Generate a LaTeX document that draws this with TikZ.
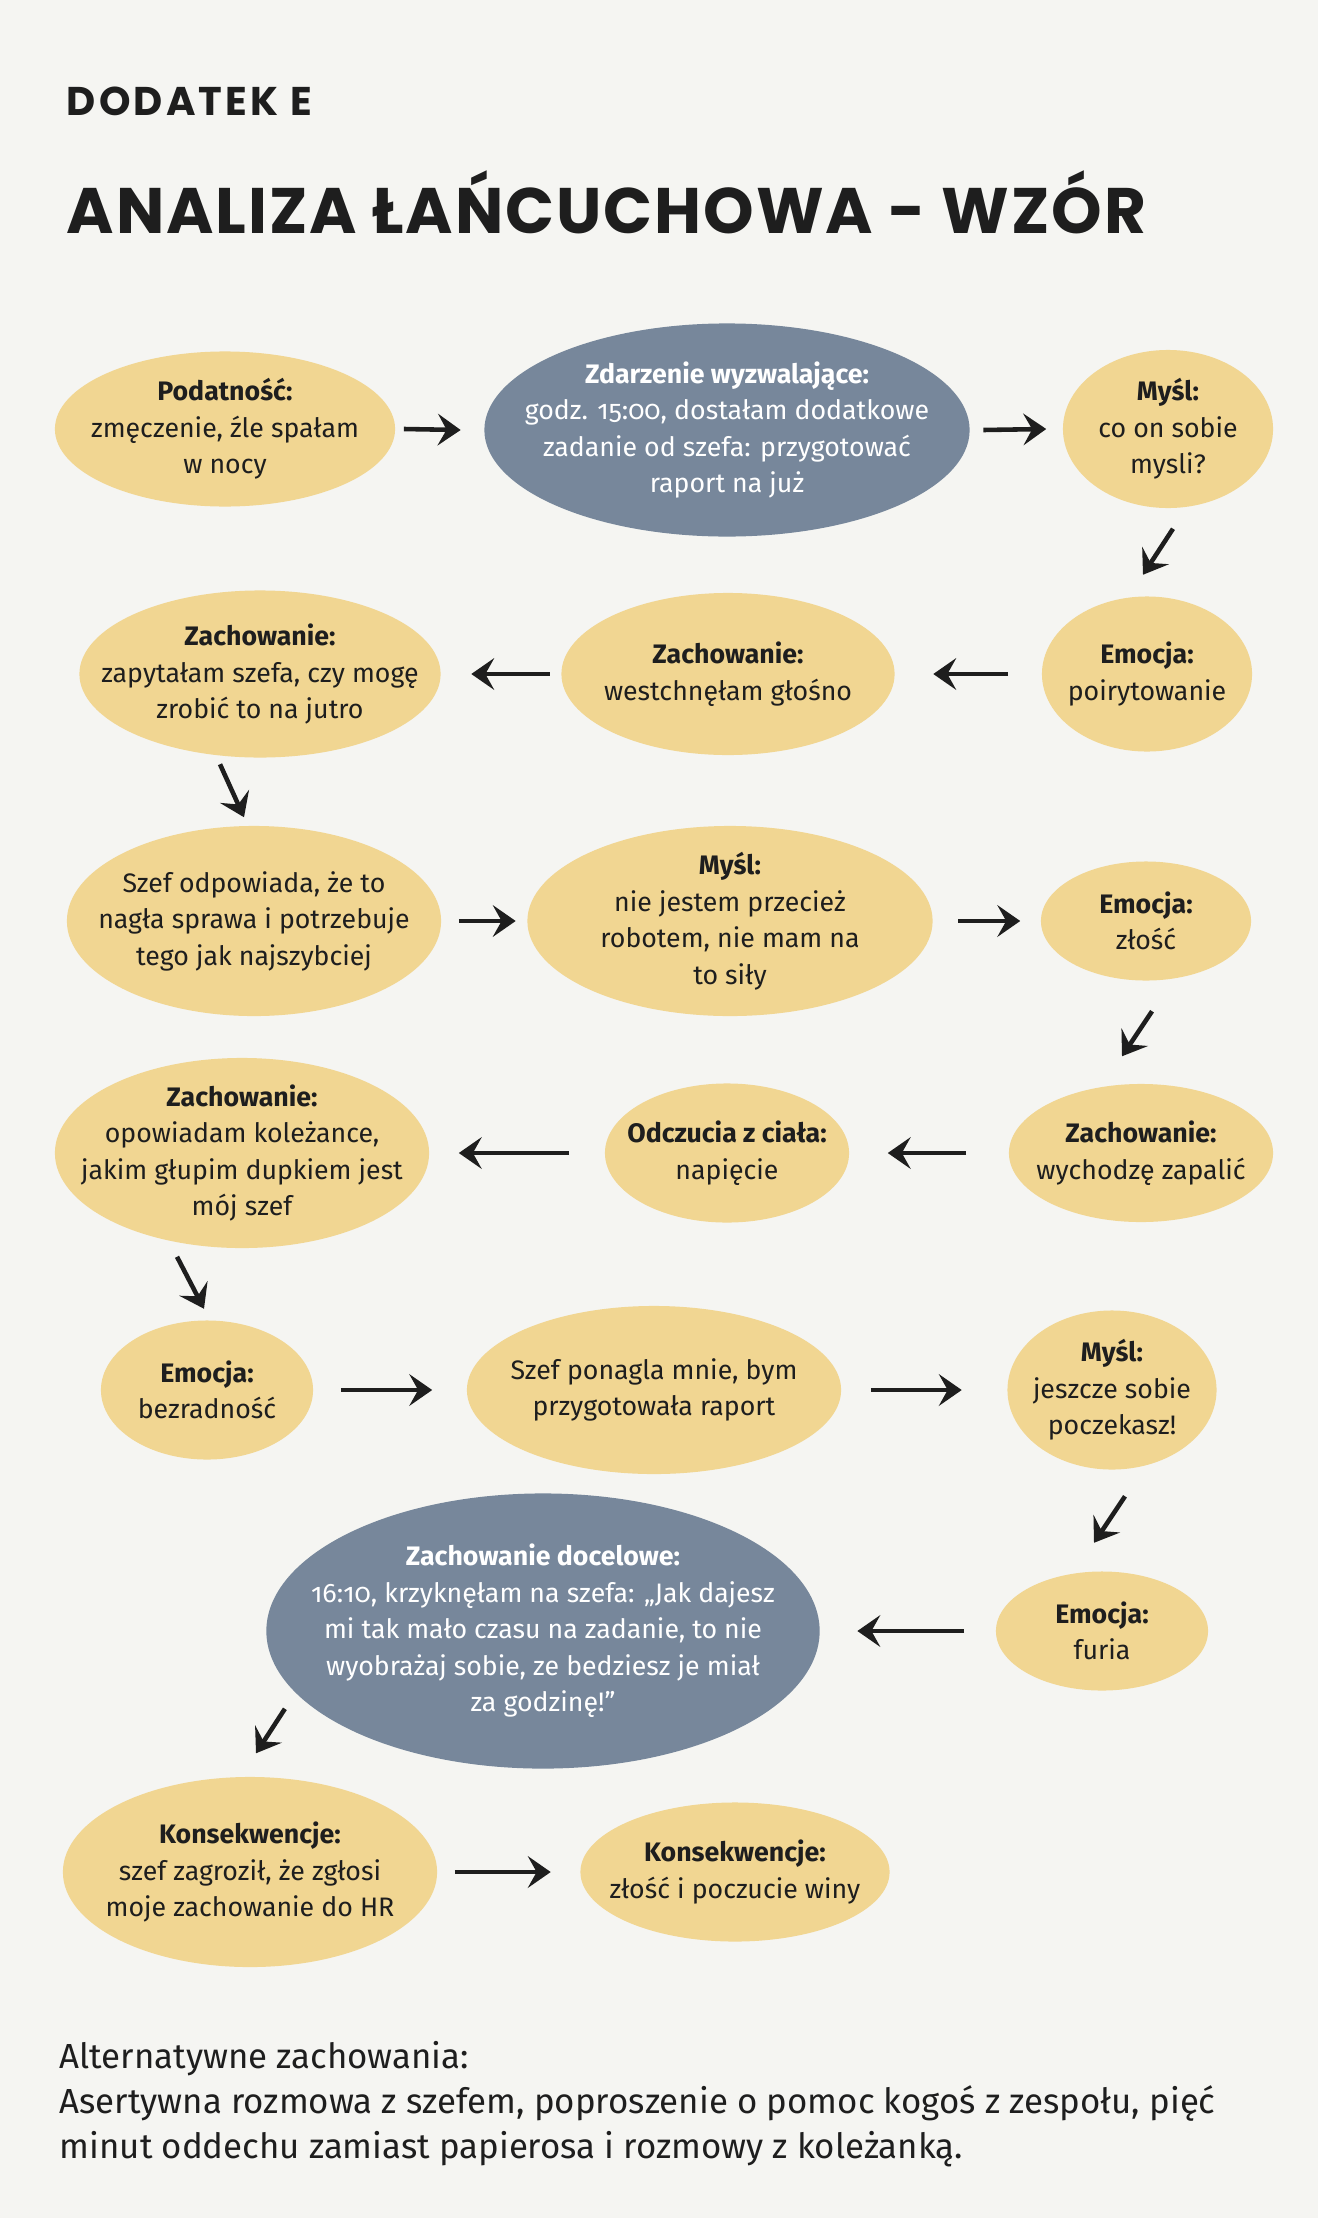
\documentclass[tikz,border=0pt]{standalone}
\usepackage{fontspec}
\setmainfont{Fira Sans}[Numbers=OldStyle]
\newfontfamily\tytulowa{Poppins}[LetterSpace=3]
\newfontfamily\dodatkowa{Poppins}[LetterSpace=8]
\usetikzlibrary{shapes.geometric,arrows.meta,calc}

\definecolor{piasek}{HTML}{F1D692}
\definecolor{lupek}{HTML}{77879B}
\definecolor{papier}{HTML}{F5F5F2}
\definecolor{tusz}{HTML}{1E1E1E}

\tikzset{
  babel/.style={ellipse, fill=piasek, text=tusz, inner sep=-2cm, align=center,
    font=\fontsize{7.6}{10.4}\selectfont},
  babel ciemny/.style={babel, fill=lupek, text=white},
  strz/.style={draw=tusz, line width=1.3pt, -{Stealth[length=6.5pt,width=9pt,inset=2.5pt]}},
  napis/.style={anchor=base west, inner sep=0pt, text=tusz},
}

\begin{document}
\begin{tikzpicture}[x=0.01cm, y=-0.01cm]
\fill[papier] (0,0) rectangle (1318,2218);
\useasboundingbox (0,0) rectangle (1318,2218);

% naglowek
\node[napis, font=\dodatkowa\bfseries\fontsize{11.4}{12}\selectfont] (dodatek) at (66,115) {DODATEK E};
\node[napis, font=\tytulowa\bfseries\fontsize{18.3}{20}\selectfont] (tytul) at (66,233) {ANALIZA ŁAŃCUCHOWA - WZÓR};

% wiersz 1
\node[babel, minimum width=3.40cm, minimum height=1.55cm] (pod) at (225,429) {\textbf{Podatność:}\\zmęczenie, źle spałam\\w nocy};
\node[babel ciemny, minimum width=4.85cm, minimum height=2.13cm] (zdarz) at (727,430) {\textbf{Zdarzenie wyzwalające:}\\godz. 15:00, dostałam dodatkowe\\zadanie od szefa: przygotować\\raport na już};
\node[babel, minimum width=2.10cm, minimum height=1.58cm] (mysl1) at (1168,429) {\textbf{Myśl:}\\co on sobie\\mysli?};

% wiersz 2
\node[babel, minimum width=2.10cm, minimum height=1.55cm] (emo1) at (1147,674) {\textbf{Emocja:}\\poirytowanie};
\node[babel, minimum width=3.33cm, minimum height=1.62cm] (zach1) at (728,674) {\textbf{Zachowanie:}\\westchnęłam głośno};
\node[babel, minimum width=3.61cm, minimum height=1.67cm] (zach2) at (260,674) {\textbf{Zachowanie:}\\zapytałam szefa, czy mogę\\zrobić to na jutro};

% wiersz 3
\node[babel, minimum width=3.74cm, minimum height=1.90cm] (szef1) at (254,921) {Szef odpowiada, że to\\nagła sprawa i potrzebuje\\tego jak najszybciej};
\node[babel, minimum width=4.05cm, minimum height=1.90cm] (mysl2) at (730,921) {\textbf{Myśl:}\\nie jestem przecież\\robotem, nie mam na\\to siły};
\node[babel, minimum width=2.10cm, minimum height=1.19cm] (emo2) at (1146,921) {\textbf{Emocja:}\\złość};

% wiersz 4
\node[babel, minimum width=2.64cm, minimum height=1.38cm] (zach3) at (1141,1153) {\textbf{Zachowanie:}\\wychodzę zapalić};
\node[babel, minimum width=2.44cm, minimum height=1.39cm] (odcz) at (727,1153) {\textbf{Odczucia z ciała:}\\napięcie};
\node[babel, minimum width=3.74cm, minimum height=1.90cm] (zach4) at (242,1153) {\textbf{Zachowanie:}\\opowiadam koleżance,\\jakim głupim dupkiem jest\\mój szef};

% wiersz 5
\node[babel, minimum width=2.12cm, minimum height=1.39cm] (emo3) at (207,1390) {\textbf{Emocja:}\\bezradność};
\node[babel, minimum width=3.74cm, minimum height=1.68cm] (szef2) at (654,1390) {Szef ponagla mnie, bym\\przygotowała raport};
\node[babel, minimum width=2.09cm, minimum height=1.59cm] (mysl3) at (1112,1390) {\textbf{Myśl:}\\jeszcze sobie\\poczekasz!};

% wiersz 6
\node[babel, minimum width=2.12cm, minimum height=1.19cm] (emo4) at (1102,1631) {\textbf{Emocja:}\\furia};
\node[babel ciemny, minimum width=5.53cm, minimum height=2.75cm] (docel) at (543,1631) {\textbf{Zachowanie docelowe:}\\16:10, krzyknęłam na szefa: „Jak dajesz\\mi tak mało czasu na zadanie, to nie\\wyobrażaj sobie, ze bedziesz je miał\\za godzinę!”};

% wiersz 7
\node[babel, minimum width=3.74cm, minimum height=1.90cm] (kons1) at (250,1872) {\textbf{Konsekwencje:}\\szef zagroził, że zgłosi\\moje zachowanie do HR};
\node[babel, minimum width=3.09cm, minimum height=1.39cm] (kons2) at (735,1872) {\textbf{Konsekwencje:}\\złość i poczucie winy};

% strzalki
\draw[strz] ($(pod.east)+(8,0)$) -- ($(zdarz.west)+(-23,0)$);
\draw[strz] ($(zdarz.east)+(13,0)$) -- ($(mysl1.west)+(-16,0)$);
\draw[strz] ($(mysl1.south)+(5,20)$) -- ($(emo1.north)+(-4,-21)$);
\draw[strz] ($(emo1.west)+(-33,0)$) -- ($(zach1.east)+(38,0)$);
\draw[strz] ($(zach1.west)+(-11,0)$) -- ($(zach2.east)+(30,0)$);
\draw[strz] ($(zach2.south)+(-40,6)$) -- ($(szef1.north)+(-10,-8)$);
\draw[strz] ($(szef1.east)+(17,0)$) -- ($(mysl2.west)+(-11,0)$);
\draw[strz] ($(mysl2.east)+(25,0)$) -- ($(emo2.west)+(-20,0)$);
\draw[strz] ($(emo2.south)+(6,30)$) -- ($(zach3.north)+(-19,-27)$);
\draw[strz] ($(zach3.west)+(-42,0)$) -- ($(odcz.east)+(38,0)$);
\draw[strz] ($(odcz.west)+(-35,0)$) -- ($(zach4.east)+(29,0)$);
\draw[strz] ($(zach4.south)+(-65,8)$) -- ($(emo3.north)+(-3,-11)$);
\draw[strz] ($(emo3.east)+(27,0)$) -- ($(szef2.west)+(-34,0)$);
\draw[strz] ($(szef2.east)+(29,0)$) -- ($(mysl3.west)+(-45,0)$);
\draw[strz] ($(mysl3.south)+(13,26)$) -- ($(emo4.north)+(-8,-28)$);
\draw[strz] ($(emo4.west)+(-31,0)$) -- ($(docel.east)+(37,0)$);
\draw[strz] ($(docel.south west)+(-62,-20)$) -- ($(kons1.north)+(6,-23)$);
\draw[strz] ($(kons1.east)+(17,0)$) -- ($(kons2.west)+(-29,0)$);

% alternatywy
\node[napis, align=left, font=\fontsize{9.9}{12.8}\selectfont] (alt) at (59,2158) {Alternatywne zachowania:\\Asertywna rozmowa z szefem, poproszenie o pomoc kogoś z zespołu, pięć\\minut oddechu zamiast papierosa i rozmowy z koleżanką.};
\end{tikzpicture}
\end{document}
